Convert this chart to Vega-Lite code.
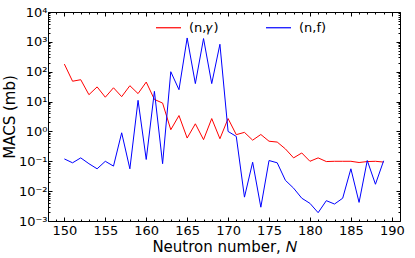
{
  "$schema": "https://vega.github.io/schema/vega-lite/v6.json",
  "width": 352,
  "height": 209,
  "padding": {"left": 2, "top": 6, "right": 8, "bottom": 4},
  "background": "white",
  "config": {
    "view": {"stroke": "black", "strokeWidth": 1},
    "axis": {"domain": false, "grid": false, "tickColor": "black", "tickWidth": 1, "labelColor": "black", "titleColor": "black", "labelFont": "DejaVu Sans", "titleFont": "DejaVu Sans", "labelFontSize": 13, "titleFontSize": 15, "titleFontWeight": "normal"},
    "legend": {"labelFont": "DejaVu Sans", "labelColor": "black"}
  },
  "data": {"values": [
    {"N":150,"series":"(n,𝛾)","macs":180},{"N":151,"series":"(n,𝛾)","macs":48},{"N":152,"series":"(n,𝛾)","macs":54},{"N":153,"series":"(n,𝛾)","macs":17},{"N":154,"series":"(n,𝛾)","macs":31},{"N":155,"series":"(n,𝛾)","macs":14},{"N":156,"series":"(n,𝛾)","macs":29},{"N":157,"series":"(n,𝛾)","macs":14.6},{"N":158,"series":"(n,𝛾)","macs":34},{"N":159,"series":"(n,𝛾)","macs":18.5},
    {"N":160,"series":"(n,𝛾)","macs":45},{"N":161,"series":"(n,𝛾)","macs":11.8},{"N":162,"series":"(n,𝛾)","macs":8.9},{"N":163,"series":"(n,𝛾)","macs":1.14},{"N":164,"series":"(n,𝛾)","macs":3.4},{"N":165,"series":"(n,𝛾)","macs":0.6},{"N":166,"series":"(n,𝛾)","macs":1.8},{"N":167,"series":"(n,𝛾)","macs":0.53},{"N":168,"series":"(n,𝛾)","macs":2.7},{"N":169,"series":"(n,𝛾)","macs":0.57},
    {"N":170,"series":"(n,𝛾)","macs":2.7},{"N":171,"series":"(n,𝛾)","macs":0.78},{"N":172,"series":"(n,𝛾)","macs":0.93},{"N":173,"series":"(n,𝛾)","macs":0.51},{"N":174,"series":"(n,𝛾)","macs":0.79},{"N":175,"series":"(n,𝛾)","macs":0.47},{"N":176,"series":"(n,𝛾)","macs":0.44},{"N":177,"series":"(n,𝛾)","macs":0.26},{"N":178,"series":"(n,𝛾)","macs":0.13},{"N":179,"series":"(n,𝛾)","macs":0.19},
    {"N":180,"series":"(n,𝛾)","macs":0.1},{"N":181,"series":"(n,𝛾)","macs":0.13},{"N":182,"series":"(n,𝛾)","macs":0.098},{"N":183,"series":"(n,𝛾)","macs":0.1},{"N":184,"series":"(n,𝛾)","macs":0.1},{"N":185,"series":"(n,𝛾)","macs":0.1},{"N":186,"series":"(n,𝛾)","macs":0.091},{"N":187,"series":"(n,𝛾)","macs":0.098},{"N":188,"series":"(n,𝛾)","macs":0.1},{"N":189,"series":"(n,𝛾)","macs":0.094},
    {"N":150,"series":"(n,f)","macs":0.12},{"N":151,"series":"(n,f)","macs":0.089},{"N":152,"series":"(n,f)","macs":0.13},{"N":153,"series":"(n,f)","macs":0.083},{"N":154,"series":"(n,f)","macs":0.056},{"N":155,"series":"(n,f)","macs":0.1},{"N":156,"series":"(n,f)","macs":0.069},{"N":157,"series":"(n,f)","macs":0.9},{"N":158,"series":"(n,f)","macs":0.056},{"N":159,"series":"(n,f)","macs":11},
    {"N":160,"series":"(n,f)","macs":0.115},{"N":161,"series":"(n,f)","macs":22},{"N":162,"series":"(n,f)","macs":0.083},{"N":163,"series":"(n,f)","macs":100},{"N":164,"series":"(n,f)","macs":25},{"N":165,"series":"(n,f)","macs":1350},{"N":166,"series":"(n,f)","macs":40},{"N":167,"series":"(n,f)","macs":1290},{"N":168,"series":"(n,f)","macs":40},{"N":169,"series":"(n,f)","macs":830},
    {"N":170,"series":"(n,f)","macs":1.0},{"N":171,"series":"(n,f)","macs":0.68},{"N":172,"series":"(n,f)","macs":0.0063},{"N":173,"series":"(n,f)","macs":0.093},{"N":174,"series":"(n,f)","macs":0.0029},{"N":175,"series":"(n,f)","macs":0.106},{"N":176,"series":"(n,f)","macs":0.089},{"N":177,"series":"(n,f)","macs":0.023},{"N":178,"series":"(n,f)","macs":0.0126},{"N":179,"series":"(n,f)","macs":0.0058},
    {"N":180,"series":"(n,f)","macs":0.0039},{"N":181,"series":"(n,f)","macs":0.0019},{"N":182,"series":"(n,f)","macs":0.0048},{"N":183,"series":"(n,f)","macs":0.0037},{"N":184,"series":"(n,f)","macs":0.0058},{"N":185,"series":"(n,f)","macs":0.056},{"N":186,"series":"(n,f)","macs":0.0042},{"N":187,"series":"(n,f)","macs":0.106},{"N":188,"series":"(n,f)","macs":0.017},{"N":189,"series":"(n,f)","macs":0.104}
  ]},
  "resolve": {"axis": {"x": "independent", "y": "independent"}},
  "layer": [
    {
      "mark": {"type": "line", "strokeOpacity": 0},
      "encoding": {
        "x": {"field": "N", "type": "quantitative", "scale": {"domain": [148, 191], "nice": false, "zero": false},
          "axis": {"orient": "bottom", "values": [148,149,151,152,153,154,156,157,158,159,161,162,163,164,166,167,168,169,171,172,173,174,176,177,178,179,181,182,183,184,186,187,188,189,191], "tickSize": -2, "labels": false, "title": null}},
        "y": {"field": "macs", "type": "quantitative", "scale": {"type": "log", "domain": [0.001, 10000], "nice": false},
          "axis": {"orient": "left", "values": [0.002,0.003,0.004,0.005,0.006,0.007,0.008,0.009,0.02,0.03,0.04,0.05,0.06,0.07,0.08,0.09,0.2,0.3,0.4,0.5,0.6,0.7,0.8,0.9,2,3,4,5,6,7,8,9,20,30,40,50,60,70,80,90,200,300,400,500,600,700,800,900,2000,3000,4000,5000,6000,7000,8000,9000], "tickSize": -2, "labels": false, "title": null}},
        "detail": {"field": "series"}
      }
    },
    {
      "mark": {"type": "line", "strokeOpacity": 0},
      "encoding": {
        "x": {"field": "N", "type": "quantitative",
          "axis": {"orient": "top", "values": [148,149,151,152,153,154,156,157,158,159,161,162,163,164,166,167,168,169,171,172,173,174,176,177,178,179,181,182,183,184,186,187,188,189,191], "tickSize": -2, "labels": false, "title": null}},
        "y": {"field": "macs", "type": "quantitative",
          "axis": {"orient": "right", "values": [0.002,0.003,0.004,0.005,0.006,0.007,0.008,0.009,0.02,0.03,0.04,0.05,0.06,0.07,0.08,0.09,0.2,0.3,0.4,0.5,0.6,0.7,0.8,0.9,2,3,4,5,6,7,8,9,20,30,40,50,60,70,80,90,200,300,400,500,600,700,800,900,2000,3000,4000,5000,6000,7000,8000,9000], "tickSize": -2, "labels": false, "title": null}},
        "detail": {"field": "series"}
      }
    },
    {
      "transform": [{"filter": "datum.series == '(n,𝛾)'"}],
      "mark": {"type": "line", "strokeWidth": 1},
      "encoding": {
        "x": {"field": "N", "type": "quantitative",
          "axis": {"orient": "bottom", "values": [150,155,160,165,170,175,180,185,190], "tickSize": -4, "labelPadding": 7, "title": "Neutron number, 𝑁", "titlePadding": 2}},
        "y": {"field": "macs", "type": "quantitative",
          "axis": {"orient": "left", "values": [0.001,0.01,0.1,1,10,100,1000,10000], "tickSize": -4, "labelPadding": 5, "title": "MACS (mb)", "titlePadding": 1,
            "labelExpr": "round(log(datum.value)/LN10) == -3 ? '10⁻³' : round(log(datum.value)/LN10) == -2 ? '10⁻²' : round(log(datum.value)/LN10) == -1 ? '10⁻¹' : round(log(datum.value)/LN10) == 0 ? '10⁰' : round(log(datum.value)/LN10) == 1 ? '10¹' : round(log(datum.value)/LN10) == 2 ? '10²' : round(log(datum.value)/LN10) == 3 ? '10³' : '10⁴'"}},
        "color": {"field": "series", "type": "nominal", "scale": {"domain": ["(n,𝛾)", "(n,f)"], "range": ["#ff0000", "#0000ff"]},
          "legend": {"orient": "none", "legendX": 107, "legendY": 2, "direction": "horizontal", "title": null, "symbolType": "stroke", "symbolSize": 625, "symbolStrokeWidth": 1.2, "labelFontSize": 13, "labelOffset": 7, "columnPadding": 44}}
      }
    },
    {
      "transform": [{"filter": "datum.series == '(n,f)'"}],
      "mark": {"type": "line", "strokeWidth": 1},
      "encoding": {
        "x": {"field": "N", "type": "quantitative",
          "axis": {"orient": "top", "values": [150,155,160,165,170,175,180,185,190], "tickSize": -4, "labels": false, "title": null}},
        "y": {"field": "macs", "type": "quantitative",
          "axis": {"orient": "right", "values": [0.001,0.01,0.1,1,10,100,1000,10000], "tickSize": -4, "labels": false, "title": null}},
        "color": {"field": "series", "type": "nominal",
          "legend": {"orient": "none", "legendX": 107, "legendY": 2, "direction": "horizontal", "title": null, "symbolType": "stroke", "symbolSize": 625, "symbolStrokeWidth": 1.2, "labelFontSize": 13, "labelOffset": 7, "columnPadding": 44}}
      }
    }
  ]
}
